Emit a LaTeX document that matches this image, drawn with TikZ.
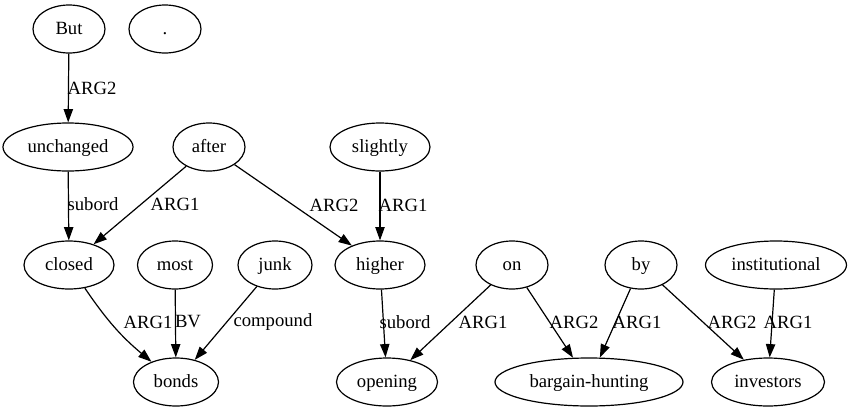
\documentclass[tikz,border=0pt]{standalone}
\usepackage{fontspec}
\setmainfont{Liberation Serif}
\usetikzlibrary{shapes.geometric,arrows.meta}
\begin{document}
\begin{tikzpicture}[x=0.75pt,y=-0.75pt,
  every node/.style={font=\fontsize{14}{16}\selectfont},
  nd/.style={ellipse,draw,line width=0.9pt,inner sep=0pt,text height=10.5pt,text depth=3pt,minimum height=36pt,minimum width={#1*0.75pt}},
  lbl/.style={inner sep=0pt,anchor=center},
  edge/.style={draw,line width=0.9pt,-{Triangle[length=10pt,width=7pt]}}]
\useasboundingbox (0,0) rectangle (851,411);
\node[nd=72] (but) at (69,29) {But};
\node[nd=72] (dot) at (165,29) {.};
\node[nd=130] (unchanged) at (68,147) {unchanged};
\node[nd=72] (after) at (209,147) {after};
\node[nd=100] (slightly) at (380,147) {slightly};
\node[nd=90] (closed) at (69,265) {closed};
\node[nd=75] (most) at (175,265) {most};
\node[nd=74] (junk) at (275,265) {junk};
\node[nd=90] (higher) at (380,265) {higher};
\node[nd=72] (on) at (512,265) {on};
\node[nd=72] (by) at (641,265) {by};
\node[nd=141] (institutional) at (776,265) {institutional};
\node[nd=85] (bonds) at (176,382) {bonds};
\node[nd=101] (opening) at (387,382) {opening};
\node[nd=188] (bh) at (589,382) {bargain-hunting};
\node[nd=113] (investors) at (768,382) {investors};

\path[edge] (but) -- (unchanged);
\path[edge] (unchanged) -- (closed);
\path[edge] (after) -- (closed);
\path[edge] (after) -- (higher);
\path[edge] (slightly) -- (higher);
\path[edge] (closed) to[bend right=8] (bonds);
\path[edge] (most) -- (bonds);
\path[edge] (junk) -- (bonds);
\path[edge] (higher) -- (opening);
\path[edge] (on) -- (opening);
\path[edge] (on) -- (bh);
\path[edge] (by) -- (bh);
\path[edge] (by) -- (investors);
\path[edge] (institutional) -- (investors);

\node[lbl] (l1) at (92,88) {ARG2};
\node[lbl] (l2) at (93,204) {subord};
\node[lbl] (l3) at (175,204) {ARG1};
\node[lbl] (l4) at (334,205) {ARG2};
\node[lbl] (l5) at (403,205) {ARG1};
\node[lbl] (l6) at (148,322) {ARG1};
\node[lbl] (l7) at (188,322) {BV};
\node[lbl] (l8) at (273,322) {compound};
\node[lbl] (l9) at (405,322) {subord};
\node[lbl] (l10) at (483,322) {ARG1};
\node[lbl] (l11) at (574,322) {ARG2};
\node[lbl] (l12) at (637,322) {ARG1};
\node[lbl] (l13) at (732,322) {ARG2};
\node[lbl] (l14) at (788,322) {ARG1};
\end{tikzpicture}
\end{document}
